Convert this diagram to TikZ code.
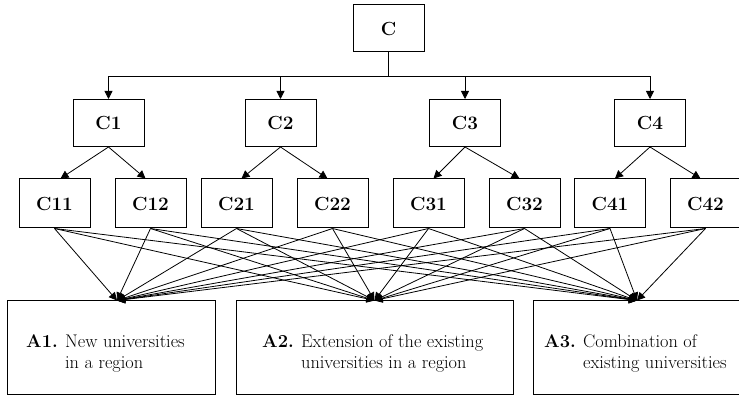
\documentclass[tikz,border=0pt]{standalone}
\usepackage{fontspec}
\usetikzlibrary{arrows.meta}
\tikzset{
  cbox/.style  = {draw, line width=1pt, minimum width=71pt, minimum height=47pt,
                  inner sep=0pt, font=\fontsize{19}{22}\selectfont\bfseries},
  crow/.style  = {cbox, minimum height=49pt},
  abox/.style  = {draw, line width=1pt, minimum height=93pt, inner sep=0pt},
  atext/.style = {anchor=west, inner sep=0pt, font=\fontsize{18.3}{20.5}\selectfont},
  line/.style  = {line width=0.9pt},
  arr/.style   = {-{Triangle[length=8pt,width=8pt]}, line width=0.8pt}
}

\begin{document}
\begin{tikzpicture}[x=1pt, y=-1pt]
  \useasboundingbox (0,0) rectangle (739,395);
  % goal
  \node[cbox] (C)  at (388.5,28.5) {C};
  % criteria
  \node[cbox] (C1) at (108.5,123) {C1};
  \node[cbox] (C2) at (280.5,123) {C2};
  \node[cbox] (C3) at (465,123)   {C3};
  \node[cbox] (C4) at (650,123)   {C4};
  % sub-criteria
  \node[crow] (C11) at (54.5,203.5)  {C11};
  \node[crow] (C12) at (150.5,203.5) {C12};
  \node[crow] (C21) at (236.5,203.5) {C21};
  \node[crow] (C22) at (332.5,203.5) {C22};
  \node[crow] (C31) at (428.5,203.5) {C31};
  \node[crow] (C32) at (524.5,203.5) {C32};
  \node[crow] (C41) at (610,203.5)   {C41};
  \node[crow] (C42) at (705.5,203.5) {C42};
  % alternatives
  \node[abox, minimum width=208pt] (A1) at (111,347.5)   {};
  \node[abox, minimum width=277pt] (A2) at (374.5,347.5) {};
  \node[abox, minimum width=210pt] (A3) at (638,347.5)   {};
  \node[atext] (A1t) at (26,354)
    {\begin{tabular}{@{}l@{ }l@{}}\textbf{A1.} & New universities\\ & in a region\end{tabular}};
  \node[atext] (A2t) at (262,354)
    {\begin{tabular}{@{}l@{ }l@{}}\textbf{A2.} & Extension of the existing\\ & universities in a region\end{tabular}};
  \node[atext] (A3t) at (544,354)
    {\begin{tabular}{@{}l@{ }l@{}}\textbf{A3.} & Combination of\\ & existing universities\end{tabular}};

  \coordinate (bus) at (388.5,76);
  \draw[line] (C.south) -- (bus);
  \draw[arr] (bus) -| (C1.north);
  \draw[arr] (bus) -| (C2.north);
  \draw[arr] (bus) -| (C3.north);
  \draw[arr] (bus) -| (C4.north);

  \draw[arr] (C1.south) -- ([xshift=6pt]C11.north);
  \draw[arr] (C1.south) -- ([xshift=-5pt]C12.north);
  \draw[arr] (C2.south) -- ([xshift=5pt]C21.north);
  \draw[arr] (C2.south) -- ([xshift=-5pt]C22.north);
  \draw[arr] (C3.south) -- ([xshift=5pt]C31.north);
  \draw[arr] (C3.south) -- ([xshift=-5pt]C32.north);
  \draw[arr] (C4.south) -- ([xshift=5pt]C41.north);
  \draw[arr] (C4.south) -- ([xshift=-5pt]C42.north);

  % every sub-criterion to every alternative
  \foreach \s in {C11,C12,C21,C22,C31,C32,C41,C42}
    \foreach \t/\dx in {A1/6,A2/0,A3/-1}
      \draw[arr] (\s.south) -- ([xshift=\dx pt]\t.north);
\end{tikzpicture}
\end{document}
